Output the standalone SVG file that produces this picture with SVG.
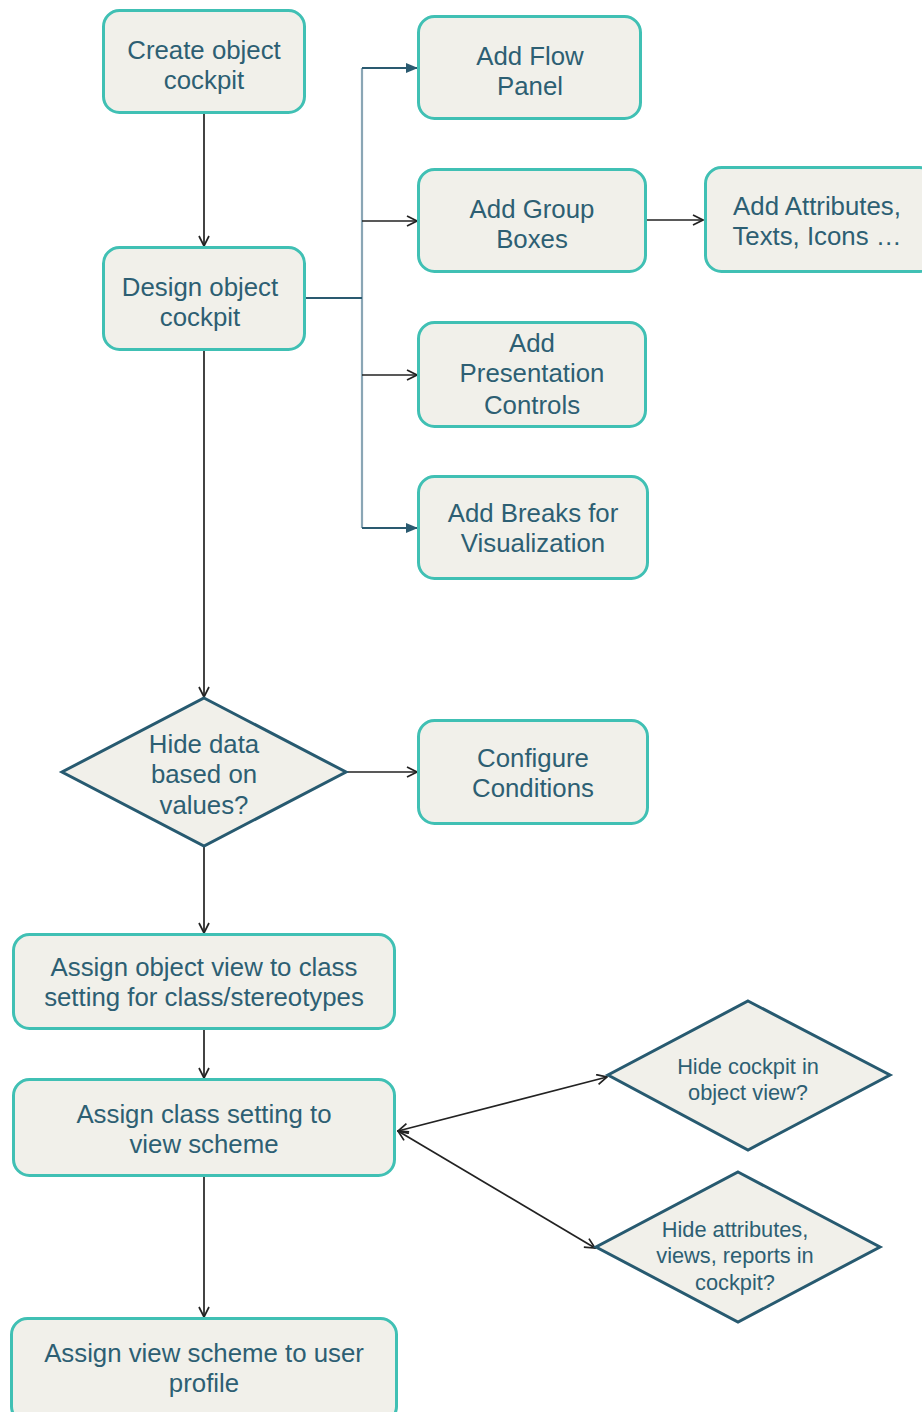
<svg xmlns="http://www.w3.org/2000/svg" width="922" height="1412" viewBox="0 0 922 1412">
<defs>
<style>
.box{fill:#f1f0ea;stroke:#40c0b4;stroke-width:3}
.dia{fill:#f1f0ea;stroke:#275a70;stroke-width:3}
.t{font-family:"Liberation Sans",Arial,sans-serif;font-size:25.8px;fill:#2d5f73;text-anchor:middle}
.ts{font-family:"Liberation Sans",Arial,sans-serif;font-size:21.8px;fill:#2d5f73;text-anchor:middle}
.c{fill:none;stroke:#222;stroke-width:1.7}
.trunk{fill:none;stroke:#8aa6b5;stroke-width:2.2}
.dk{fill:none;stroke:#2a5a70;stroke-width:2.2}
</style>
<marker id="open" viewBox="0 0 12 12" refX="11" refY="6" markerWidth="12" markerHeight="12" markerUnits="userSpaceOnUse" orient="auto-start-reverse">
<path d="M1,1 L11,6 L1,11" fill="none" stroke="#222" stroke-width="1.7"/>
</marker>
<marker id="fill" viewBox="0 0 12 12" refX="11" refY="6" markerWidth="12" markerHeight="12" markerUnits="userSpaceOnUse" orient="auto">
<path d="M0,1 L12,6 L0,11 Z" fill="#2a5a70"/>
</marker>
</defs>
<rect width="922" height="1412" fill="#ffffff"/>
<g id="connectors">
<line class="c" x1="204" y1="113" x2="204" y2="246" marker-end="url(#open)"/>
<line class="trunk" x1="362" y1="68" x2="362" y2="528"/>
<line class="dk" x1="305" y1="298" x2="362" y2="298"/>
<line class="dk" x1="362" y1="68" x2="417" y2="68" marker-end="url(#fill)"/>
<line class="c" x1="362" y1="221" x2="417" y2="221" marker-end="url(#open)"/>
<line class="c" x1="362" y1="375" x2="417" y2="375" marker-end="url(#open)"/>
<line class="dk" x1="362" y1="528" x2="417" y2="528" marker-end="url(#fill)"/>
<line class="c" x1="645" y1="220" x2="703" y2="220" marker-end="url(#open)"/>
<line class="c" x1="204" y1="350" x2="204" y2="697" marker-end="url(#open)"/>
<line class="c" x1="346" y1="772" x2="417" y2="772" marker-end="url(#open)"/>
<line class="c" x1="204" y1="846" x2="204" y2="933" marker-end="url(#open)"/>
<line class="c" x1="204" y1="1029" x2="204" y2="1078" marker-end="url(#open)"/>
<line class="c" x1="204" y1="1176" x2="204" y2="1317" marker-end="url(#open)"/>
<line class="c" x1="398" y1="1131" x2="607" y2="1077" marker-start="url(#open)" marker-end="url(#open)"/>
<line class="c" x1="398" y1="1131" x2="595" y2="1248" marker-start="url(#open)" marker-end="url(#open)"/>
</g>
<g id="create">
<rect class="box" x="103.5" y="10.5" width="201" height="102" rx="16"/>
<text class="t" x="204" y="59">Create object</text>
<text class="t" x="204" y="89">cockpit</text>
</g>
<g id="design">
<rect class="box" x="103.5" y="247.5" width="201" height="102" rx="16"/>
<text class="t" x="200" y="296">Design object</text>
<text class="t" x="200" y="326">cockpit</text>
</g>
<g id="flowpanel">
<rect class="box" x="418.5" y="16.5" width="222" height="102" rx="16"/>
<text class="t" x="530" y="65">Add Flow</text>
<text class="t" x="530" y="95">Panel</text>
</g>
<g id="groupboxes">
<rect class="box" x="418.5" y="169.5" width="227" height="102" rx="16"/>
<text class="t" x="532" y="218">Add Group</text>
<text class="t" x="532" y="248">Boxes</text>
</g>
<g id="attributes">
<rect class="box" x="705.5" y="167.5" width="230" height="104" rx="16"/>
<text class="t" x="817" y="215">Add Attributes,</text>
<text class="t" x="817" y="245">Texts, Icons …</text>
</g>
<g id="presentation">
<rect class="box" x="418.5" y="322.5" width="227" height="104" rx="16"/>
<text class="t" x="532" y="352">Add</text>
<text class="t" x="532" y="382">Presentation</text>
<text class="t" x="532" y="414">Controls</text>
</g>
<g id="breaks">
<rect class="box" x="418.5" y="476.5" width="229" height="102" rx="16"/>
<text class="t" x="533" y="522">Add Breaks for</text>
<text class="t" x="533" y="552">Visualization</text>
</g>
<g id="hidedata">
<polygon class="dia" points="204,698 346,772 204,846 62,772"/>
<text class="t" x="204" y="753">Hide data</text>
<text class="t" x="204" y="783">based on</text>
<text class="t" x="204" y="814">values?</text>
</g>
<g id="conditions">
<rect class="box" x="418.5" y="720.5" width="229" height="103" rx="16"/>
<text class="t" x="533" y="767">Configure</text>
<text class="t" x="533" y="797">Conditions</text>
</g>
<g id="assignview">
<rect class="box" x="13.5" y="934.5" width="381" height="94" rx="16"/>
<text class="t" x="204" y="976">Assign object view to class</text>
<text class="t" x="204" y="1006">setting for class/stereotypes</text>
</g>
<g id="assignclass">
<rect class="box" x="13.5" y="1079.5" width="381" height="96" rx="16"/>
<text class="t" x="204" y="1123">Assign class setting to</text>
<text class="t" x="204" y="1153">view scheme</text>
</g>
<g id="hidecockpit">
<polygon class="dia" points="748,1001 890,1075 748,1150 608,1075"/>
<text class="ts" x="748" y="1074">Hide cockpit in</text>
<text class="ts" x="748" y="1100">object view?</text>
</g>
<g id="hideattributes">
<polygon class="dia" points="738,1172 880,1247 738,1322 596,1247"/>
<text class="ts" x="735" y="1237">Hide attributes,</text>
<text class="ts" x="735" y="1263">views, reports in</text>
<text class="ts" x="735" y="1290">cockpit?</text>
</g>
<g id="userprofile">
<rect class="box" x="11.5" y="1318.5" width="385" height="104" rx="16"/>
<text class="t" x="204" y="1362">Assign view scheme to user</text>
<text class="t" x="204" y="1392">profile</text>
</g>
</svg>
